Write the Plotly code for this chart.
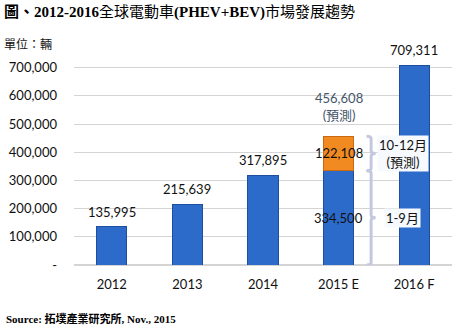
import plotly.graph_objects as go

categories = ["2012", "2013", "2014", "2015 E", "2016 F"]
base_values = [135995, 215639, 317895, 334500, 709311]
forecast_values = [None, None, None, 122108, None]
y_ticks = [0, 100000, 200000, 300000, 400000, 500000, 600000, 700000]
y_tick_labels = ["-"] + [f"{v:,}" for v in y_ticks[1:]]
part_labels = ["1-9月", "10-12月<br>(預測)"]
forecast_note = "(預測)"

xs = list(range(len(categories)))
BLUE = "#2D6BCB"
ORANGE = "#F28A22"
NUMFONT = "Lato, 'Noto Sans CJK TC', sans-serif"

fig = go.Figure()
fig.add_trace(go.Bar(x=xs, y=base_values, width=0.4, marker=dict(color=BLUE, line=dict(color="#1E4F9E", width=1)), showlegend=False, hoverinfo="skip"))
fig.add_trace(go.Bar(x=xs, y=forecast_values, width=0.4, marker=dict(color=ORANGE, line=dict(color="#C96A12", width=1)), showlegend=False, hoverinfo="skip"))

ann = []
for i, (b, f) in enumerate(zip(base_values, forecast_values)):
    if not f:
        ann.append(dict(x=i, y=b, text=f"{b:,}", showarrow=False, yshift=15, font=dict(size=13, color="#111", family=NUMFONT)))
    else:
        total = b + f
        ann.append(dict(x=i, y=b / 2, text=f"{b:,}", showarrow=False, font=dict(size=13, color="#111", family=NUMFONT)))
        ann.append(dict(x=i, y=b + f / 2, text=f"{f:,}", showarrow=False, font=dict(size=13, color="#111", family=NUMFONT)))
        ann.append(dict(x=i, y=total, text=f"{total:,}<br>{forecast_note}", showarrow=False, yshift=30,
                        font=dict(size=13, color="#44546A", family=NUMFONT)))
        segs = [(0, b), (b, total)]
        xl, xm, xt = i + 0.37, i + 0.43, i + 0.49
        for (y0, y1), lab in zip(segs, part_labels):
            ym = (y0 + y1) / 2
            r = min(9000, (y1 - y0) / 6)
            path = (f"M {xl},{y1} Q {xm},{y1} {xm},{y1 - r} L {xm},{ym + r} Q {xm},{ym} {xt},{ym} "
                    f"Q {xm},{ym} {xm},{ym - r} L {xm},{y0 + r} Q {xm},{y0} {xl},{y0}")
            fig.add_shape(type="path", path=path, xref="x", yref="y", line=dict(color="#C3C8E0", width=3))
            ann.append(dict(x=i + 0.85, y=ym, text=lab, showarrow=False, bgcolor="#F6F9FD",
                            font=dict(size=13, color="#111", family=NUMFONT)))

ann.append(dict(xref="paper", yref="paper", x=-72/380, y=1 + (62-13)/203, xanchor="left", yanchor="middle",
                text="<b>圖、2012-2016</b>全球電動車<b>(PHEV+BEV)</b>市場發展趨勢", showarrow=False,
                font=dict(size=15, color="#000", family="'Liberation Serif', 'Noto Sans CJK TC', serif")))
ann.append(dict(xref="paper", yref="paper", x=-72/380, y=1 + (62-43)/203, xanchor="left", yanchor="middle",
                text="單位：輛", showarrow=False, font=dict(size=12, color="#111", family="'Noto Sans CJK TC', sans-serif")))
ann.append(dict(xref="paper", yref="paper", x=-70/380, y=-(318-265)/203, xanchor="left", yanchor="middle",
                text="<b>Source: 拓墣產業研究所, Nov., 2015</b>", showarrow=False,
                font=dict(size=11, color="#000", family="'Liberation Serif', 'Noto Sans CJK TC', serif")))

fig.update_layout(
    width=461, height=328, margin=dict(l=72, r=9, t=62, b=63),
    paper_bgcolor="white", plot_bgcolor="white", barmode="stack", bargap=0.6,
    annotations=ann, showlegend=False,
)
fig.update_xaxes(range=[-0.5, 4.5], tickvals=xs, ticktext=categories, showgrid=False, zeroline=False,
                 showline=False, ticks="", tickfont=dict(size=13, color="#111", family=NUMFONT), ticklabelstandoff=10)
fig.update_yaxes(range=[0, 720000], tickvals=y_ticks, ticktext=y_tick_labels, showgrid=True, gridcolor="#D4D4D4",
                 gridwidth=1, zeroline=True, zerolinecolor="#D4D4D4", showline=False, ticks="",
                 tickfont=dict(size=13, color="#111", family=NUMFONT), ticklabelstandoff=16)
fig.write_html("out.html")
